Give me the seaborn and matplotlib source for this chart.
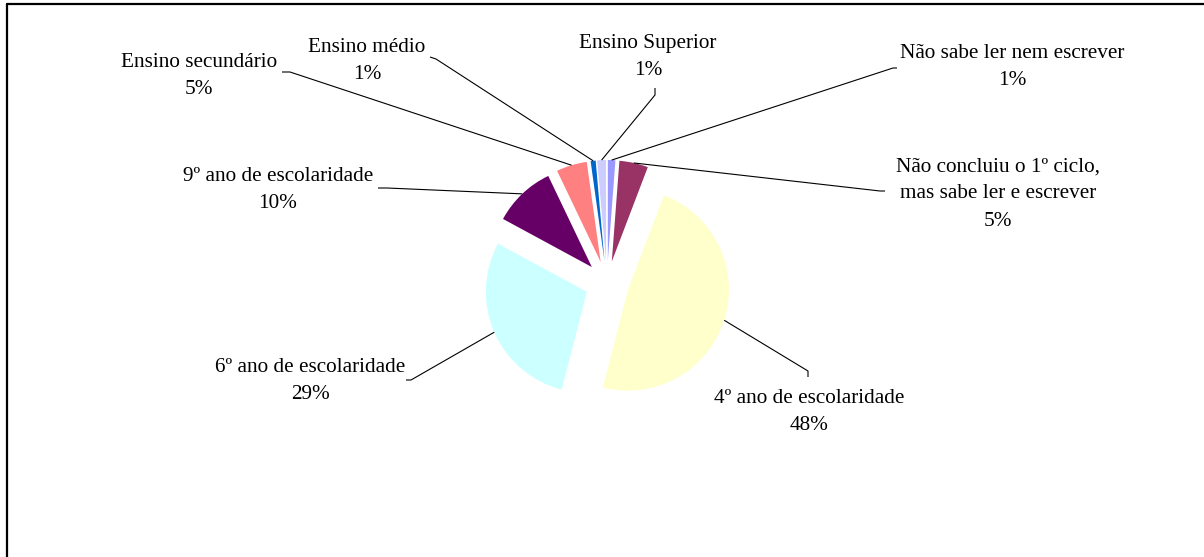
import numpy as np
import matplotlib
matplotlib.use("Agg")
import matplotlib.pyplot as plt
from matplotlib.lines import Line2D
import seaborn as sns

# Distribution of schooling levels (percent of respondents)
categories = [
    "Não sabe ler nem escrever",
    "Não concluiu o 1º ciclo,\nmas sabe ler e escrever",
    "4º ano de escolaridade",
    "6º ano de escolaridade",
    "9º ano de escolaridade",
    "Ensino secundário",
    "Ensino médio",
    "Ensino Superior",
]
shares = [1.2, 4.6, 48.2, 28.9, 10.0, 4.9, 0.8, 1.4]
colors = ["#9999FF", "#993366", "#FFFFCC", "#CCFFFF",
          "#660066", "#FF8080", "#0066CC", "#CCCCFF"]

sns.set_theme(style="white")
plt.rcParams["font.family"] = ["Liberation Serif", "DejaVu Serif"]

W, H = 1204, 557
fig = plt.figure(figsize=(W / 100, H / 100), dpi=100)
ax = fig.add_axes([0, 0, 1, 1])

palette = sns.color_palette(colors)
center = (607, H - 283)
radius = 101
wedges, _ = ax.pie(
    shares,
    colors=palette,
    startangle=90,
    counterclock=False,
    radius=radius,
    center=center,
    explode=[22] * len(shares),
    wedgeprops=dict(linewidth=0),
)
ax.set_xlim(0, W)
ax.set_ylim(0, H)
ax.set_aspect("equal")
ax.axis("off")

# label block centre and leader elbow points (pixel coords, y measured downward)
layout = [
    ((1012, 67), [(897, 68), (893, 68)]),
    ((998, 194), [(885, 191), (880, 191)]),
    ((809, 412), [(808, 377), (808, 371)]),
    ((310, 381), [(406, 380), (411, 380)]),
    ((278, 190), [(378, 188), (387, 188)]),
    ((199, 76), [(282, 72), (290, 72)]),
    ((367, 61), [(430, 57), (436, 59)]),
    ((648, 57), [(655, 88), (655, 95)]),
]

for w, cat, val, (txt, elbow) in zip(wedges, categories, shares, layout):
    mid = np.deg2rad((w.theta1 + w.theta2) / 2)
    ax_pt = (w.center[0] + w.r * np.cos(mid), w.center[1] + w.r * np.sin(mid))
    xs = [p[0] for p in elbow] + [ax_pt[0]]
    ys = [H - p[1] for p in elbow] + [ax_pt[1]]
    ax.plot(xs, ys, color="black", linewidth=0.8, solid_capstyle="butt")
    ax.text(txt[0], H - txt[1], f"{cat}\n{val:.0f}%", ha="center", va="center",
            fontsize=15.3, linespacing=1.6, color="black")

# chart-area border (top and left edges)
fig.add_artist(Line2D([7 / W, 1], [1 - 4 / H, 1 - 4 / H], color="black", linewidth=1.6))
fig.add_artist(Line2D([7 / W, 7 / W], [0, 1 - 4 / H], color="black", linewidth=1.6))

fig.savefig("out.png", dpi=100)
